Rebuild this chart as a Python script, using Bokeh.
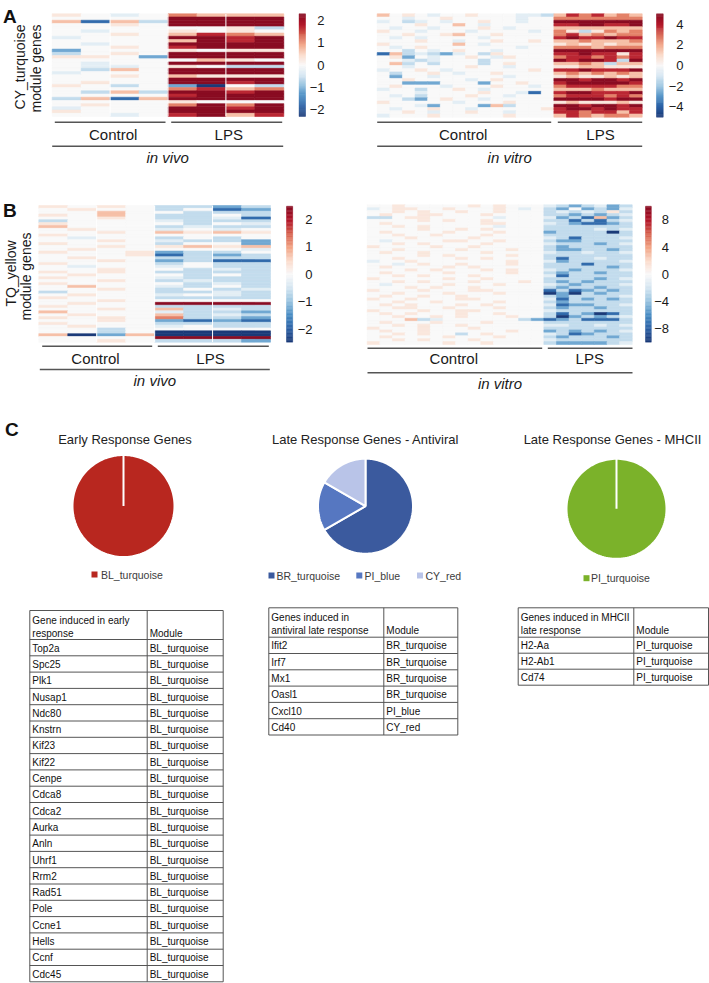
import numpy as np
from bokeh.plotting import figure
from bokeh.models import Range1d, ColumnDataSource, LinearColorMapper
from bokeh.transform import transform
from bokeh.embed import file_html
from bokeh.resources import INLINE
from bokeh.core.properties import value

FONT = value("Liberation Sans")

# ---------------- DATA ----------------
# heatmap cell codes -> fraction of the colour-bar maximum
CODE = {'N': -1.0, 'B': -0.75, 'b': -0.5, 'c': -0.26, 'd': -0.11, '.': 0.0,
        'p': 0.12, 'q': 0.3, 'r': 0.5, 's': 0.75, 'R': 1.0}

# Panel A: CY_turquoise module genes (rows = genes, "control|LPS" samples)
A_vivo_max = 2.31
A_vivo_ticks = [2, 1, 0, -1, -2]
A_vivo = [
    "p.d.|rqqq", "....|RRRR", "qBqc|RRRR", "..p.|RRRR", "....|..pc", ".d..|p.p.",
    "..p.|qsrq", "d...|RRsR", "....|qRsR", ".d..|RRRR", "..p.|sRRR", "b...|p.pp",
    "c.p.|RRRR", "pp.b|RRRR", "....|.qp.", ".d..|RRRR", ".dd.|p.cc", ".cq.|RRRR",
    "d...|RRRR", "..p.|qppp", "....|RRRR", ".p..|RRsR", "p.c.|bN.c", "....|rsqr",
    ".cqc|RRsR", "....|sRRR", "cqBq|RRRR", "....|p...", ".p..|rRrR", "d...|RRsR",
    "p...|RRRR", "..d.|sRqs",
]
A_vitro_max = 5.0
A_vitro_ticks = [4, 2, 0, -2, -4]
A_vitro = [
    "q.p.d..p...ddc|qsrsqrq", "..d..p.....d..|rrrrrrr", "d.cd.d..p..d..|RRRRRRR",
    "...p..q.d.....|ssRRssR", ".d..d...p.d...|qqqqqqq", "p..d...d....d.|rpcprqr",
    "..p..pq..p....|rsqrqrr", ".d.d....d.....|sRssRss", "...p..d..p..p.|qqrqqqr",
    "p.....q.d.....|pqpqpqq", ".d.p.......d..|rrrqrrr", "..c.d.p..d....|RRRRRRR",
    "Bqcdcbd.cp....|ssRssps", ".pb.d..p.dp...|rssrsrs", "..dcd...c.....|RsRRscR",
    ".qc.c...c.p...|qqrqcqq", "..d....p..d...|ppqqppp", "d..p.d......p.|ssRsssR",
    ".c..p.d..p....|qrqrqrq", ".b..d.....d...|pqppqpq", "..p....d.p....|RRsRRsR",
    "..bbb...b..p..|sRRRRRs", ".p...d...p..d.|rssssrr", "d..c..p.d.....|qqqrqqq",
    "...d....p..dB.|sRRsssR", ".d.c...p..d...|rsssrsr", "..cb.p..d.....|RRRRsRR",
    "p.....d...p...|pqpppqp", "...db...bqc...|RRsRRsR", ".d..p..d.....p|sRRsRss",
    "..p.d..p..d...|ssrssqs", "d...p.....p...|qsrqrrq",
]

# Panel B: TQ_yellow module genes
B_vivo_max = 2.47
B_vivo_ticks = [2, 1, 0, -1, -2]
B_vivo = [
    "p.p.|ccbc", ".p..|c.Bb", "..q.|.ccc", "p.q.|cc.c", "..p.|ccdB", "c...|dccc",
    "p...|.c.d", "q...|cdcc", ".p..|d.d.", "..p.|qpqp", "p...|....", ".d..|c.c.",
    "..p.|dccb", "p...|c..b", "..p.|pqpq", ".p..|...d", "p..p|bcc.", "...p|Bcbc",
    ".p..|cccc", "..p.|bcBB", "p...|c.cc", ".d..|d.cc", "..p.|.cdc", "p.p.|cccc",
    ".p..|.c.c", "p...|dccc", "..p.|cdcc", "p...|.cdc", ".q..|dc.c", "..p.|c.cd",
    "c...|ccdc", ".p..|d.dc", "p...|cccc", "..p.|....", ".p..|RRRR", "p...|cccc",
    "..p.|qcdc", "q...|dccb", ".p..|qcdc", "p.p.|rccb", "..p.|bBbB", "p...|cccc",
    ".p..|d.cc", "..c.|....", "..c.|NNNN", "qNbq|NNNN", "....|RRRR", "..p.|cccb",
]
B_vitro_max = 10.0
B_vitro_ticks = [8, 4, 0, -4, -8]
B_vitro = [
    "..p.....p.p...|dcbcdbc", "d.pp..p...p.d.|cb.bcbd", "..p.p..p..p...|cdcdcpc",
    ".p..pp...p....|ccbcbcd", "cc.pp.....d...|dbcBqbc", "....p.p..p....|ccBcBcd",
    ".p.......pp...|dcbBBbc", "..p.p.....d...|ccccccc", "....p..p.p....|ccccdcd",
    ".p....p...p...|bccccNc", "..p..p...p....|ccccccc", "...p....p.....|dcBcccd",
    ".d....pp..p...|cbbcccc", "..p.p....p....|dcccbcd", "p....p..p.....|cbccccc",
    "..p....p...p..|cbbccbc", ".p..p....p....|dccdccd", "....p.p....p..|ccccccc",
    "..p....p.p....|cBccdcc", "d..p.......p..|dbccccd", "..d.p..p...p..|cccBccc",
    ".p....p.p.....|cccccbc", "...p.p...p.p..|dcbcccd", ".p....p....p..|cbccbcc",
    "..p.p...p.....|dBccccc", "p.....p..p....|ccccbcd", "..p.p...p...p.|cbcbccc",
    ".d....p...p...|dcbcccd", "...p.p..p.....|cbccbcc", "p...p...pp....|BcBbcbc",
    "..p...p...p...|NbNcbcc", ".p..p..p......|cbccccd", "p..p...pp.....|dBcbcbc",
    "..p..p....p...|cbccccc", ".p.p...p.p....|dBbbccd", "..pp..p...p...|cbccbcc",
    "p...p..pp.....|dcccccc", ".p.p...p..p...|cBcbNBc", "..p..p.p...p..|cNbcbcd",
    "...qcd......cb|BbcBBBc", ".p...p...p....|ccccccc", "..p.p..p......|ddccdcd",
    "p...p...p.....|ccccccc", ".p..p......p..|bcbcbcd", "..p.p..c.p....|dcBbccc",
    ".p....p...p...|cbcccbc", "..p.p...p.....|dcccccc", "p.....p..p....|cbbbbcd",
]

# Panel C: pies and tables
early_labels = ["BL_turquoise"]
early_counts = [21]
early_colors = ["#b8271f"]
antiviral_labels = ["BR_turquoise", "PI_blue", "CY_red"]
antiviral_counts = [4, 1, 1]
antiviral_colors = ["#3b5a9e", "#5677c1", "#b9c4e8"]
mhcii_labels = ["PI_turquoise"]
mhcii_counts = [3]
mhcii_colors = ["#7bb22a"]

early_genes = ["Top2a", "Spc25", "Plk1", "Nusap1", "Ndc80", "Knstrn", "Kif23", "Kif22",
               "Cenpe", "Cdca8", "Cdca2", "Aurka", "Anln", "Uhrf1", "Rrm2", "Rad51",
               "Pole", "Ccne1", "Hells", "Ccnf", "Cdc45"]
early_modules = ["BL_turquoise"] * 21
antiviral_genes = ["Ifit2", "Irf7", "Mx1", "Oasl1", "Cxcl10", "Cd40"]
antiviral_modules = ["BR_turquoise", "BR_turquoise", "BR_turquoise", "BR_turquoise",
                     "PI_blue", "CY_red"]
mhcii_genes = ["H2-Aa", "H2-Ab1", "Cd74"]
mhcii_modules = ["PI_turquoise", "PI_turquoise", "PI_turquoise"]

# ---------------- STYLE ----------------
STOPS = ['#1b3a78', '#2c62a6', '#4a8dc4', '#99c4e0', '#d5e6f2', '#f9f9f9',
         '#fbdbcb', '#f2a485', '#d6604d', '#b3192c', '#8a0c22']
_st = np.array([[int(c[i:i + 2], 16) for i in (1, 3, 5)] for c in STOPS], float)
_pos = np.linspace(0, 1, len(STOPS))
PAL = ['#%02x%02x%02x' % tuple(int(round(np.interp(t, _pos, _st[:, k]))) for k in range(3))
       for t in np.linspace(0, 1, 101)]

W, H = 709, 983
PX0, PY0 = 0, 0
XLO, XHI = PX0, PX0 + W
YLO, YHI = PY0 + H, PY0

p = figure(width=W, height=H, x_range=Range1d(XLO, XHI), y_range=Range1d(YLO, YHI),
           output_backend="svg", toolbar_location=None, min_border=0,
           x_axis_location=None, y_axis_location=None, outline_line_color=None,
           background_fill_color="white", border_fill_color="white")
p.xgrid.visible = False
p.ygrid.visible = False


def span(p0, p1, d0, d1, lo, hi):
    k = (d1 - d0) / (p1 - p0)
    return Range1d(start=d0 + (lo - p0) * k, end=d0 + (hi - p0) * k)


def txt(x, y, s, size="13px", align="center", baseline="middle", style="normal",
        color="#222222", angle=0.0):
    p.text(x=[x], y=[y], text=[s], text_font=FONT, text_font_size=size,
           text_align=align, text_baseline=baseline, text_font_style=style,
           text_color=color, angle=angle)


def fmt(t):
    return ("\u2212%d" % -t) if t < 0 else "%d" % t


def heatmap(name, rows, vmax, box, seps):
    x0, x1, y0, y1 = box
    cells = [r.replace("|", "") for r in rows]
    nr, nc = len(cells), len(cells[0])
    xr, yr = name + "x", name + "y"
    p.extra_x_ranges[xr] = span(x0, x1, 0, nc, XLO, XHI)
    p.extra_y_ranges[yr] = span(y0, y1, 0, nr, YLO, YHI)
    xs, ys, vs = [], [], []
    for i, r in enumerate(cells):
        for j, ch in enumerate(r):
            xs.append(j + 0.5)
            ys.append(i + 0.5)
            vs.append(CODE[ch] * vmax)
    mapper = LinearColorMapper(palette=PAL, low=-vmax, high=vmax)
    src = ColumnDataSource(dict(x=xs, y=ys, v=vs))
    p.rect("x", "y", 1, 1, source=src, fill_color=transform("v", mapper),
           line_color=transform("v", mapper), line_width=0.6,
           x_range_name=xr, y_range_name=yr)
    if seps:
        p.segment(x0=seps, x1=seps, y0=0, y1=nr, line_color="white", line_width=1,
                  x_range_name=xr, y_range_name=yr)


def colorbar(name, vmax, ticks, x0, x1, ytop, ybot, lab_right):
    p.extra_y_ranges[name] = span(ytop, ybot, vmax, -vmax, YLO, YHI)
    edges = np.linspace(-vmax, vmax, len(PAL) + 1)
    p.quad(left=x0, right=x1, bottom=edges[:-1], top=edges[1:], fill_color=PAL,
           line_color=PAL, line_width=0.4, y_range_name=name)
    p.text(x=[lab_right] * len(ticks), y=ticks, text=[fmt(t) for t in ticks],
           text_font=FONT, text_font_size="13px", text_align="right",
           text_baseline="middle", text_color="#1a1a1a", y_range_name=name)


def groups(c_line, l_line, all_line, y_top, y_all, c_lab, l_lab, sub):
    p.segment(x0=[c_line[0], l_line[0], all_line[0]], x1=[c_line[1], l_line[1], all_line[1]],
              y0=[y_top, y_top, y_all], y1=[y_top, y_top, y_all],
              line_color="#555555", line_width=1.5)
    txt(c_lab[0], c_lab[1], "Control", size="15px", color="#1a1a1a")
    txt(l_lab[0], l_lab[1], "LPS", size="15px", color="#1a1a1a")
    txt((all_line[0] + all_line[1]) / 2, y_all + 11, sub, size="15px", style="italic",
        color="#1a1a1a")


# ---------------- PANEL A ----------------
txt(2.5, 15.5, "A", size="19px", align="left", baseline="alphabetic", style="bold",
    color="#111111")
txt(19, 66.5, "CY_turquoise", size="14px", angle=np.pi / 2, color="#1a1a1a")
txt(35, 68, "module genes", size="14px", angle=np.pi / 2, color="#1a1a1a")
heatmap("Av", A_vivo, A_vivo_max, (51.7, 283.3, 13.3, 116.0), [2, 4, 6])
colorbar("Avc", A_vivo_max, A_vivo_ticks, 298.5, 305.0, 13.3, 116.0, 324)
groups((54.3, 165), (170.7, 281.7), (51.7, 282.7), 121.7, 145.7,
       (112.7, 133.5), (228.3, 133.5), "in vivo")

heatmap("At", A_vitro, A_vitro_max, (376.7, 641.7, 13.3, 116.7), None)
colorbar("Atc", A_vitro_max, A_vitro_ticks, 656.0, 662.7, 13.3, 116.7, 683)
groups((376.7, 550.7), (557.3, 641.7), (376.7, 641.7), 121.7, 145.7,
       (462.7, 133.5), (600, 133.5), "in vitro")

# ---------------- PANEL B ----------------
txt(2.5, 209.5, "B", size="19px", align="left", baseline="alphabetic", style="bold",
    color="#111111")
txt(10.5, 273, "TQ_yellow", size="14px", angle=np.pi / 2, color="#1a1a1a")
txt(25.5, 276, "module genes", size="14px", angle=np.pi / 2, color="#1a1a1a")
heatmap("Bv", B_vivo, B_vivo_max, (38.3, 270.0, 205.0, 341.7), [2, 4, 6])
colorbar("Bvc", B_vivo_max, B_vivo_ticks, 286.0, 292.2, 205.7, 341.7, 312)
groups((41.7, 151.7), (157.3, 268.3), (39.3, 269.3), 345.7, 369.0,
       (95, 358.3), (210, 358.3), "in vivo")

heatmap("Bt", B_vitro, B_vitro_max, (366.7, 631.7, 204.3, 344.0), None)
colorbar("Btc", B_vitro_max, B_vitro_ticks, 645.0, 650.8, 205.7, 341.7, 668.5)
groups((367, 541.7), (547.3, 632), (367, 632), 347.7, 372.3,
       (453.3, 358.3), (589.3, 358.3), "in vitro")

# ---------------- PANEL C ----------------
txt(4.5, 429, "C", size="19px", align="left", baseline="alphabetic", style="bold",
    color="#111111")


def pie(name, counts, colors, cx, cy, r):
    xr, yr = name + "x", name + "y"
    p.extra_x_ranges[xr] = span(cx - r, cx + r, -1, 1, XLO, XHI)
    p.extra_y_ranges[yr] = span(cy - r, cy + r, 1, -1, YLO, YHI)
    total = float(sum(counts))
    a = 0.0
    xs, ys = [], []
    for c in counts:
        a1 = a + 2 * np.pi * c / total
        t = np.linspace(a, a1, 160)
        xs.append([0.0] + list(np.sin(t)))
        ys.append([0.0] + list(np.cos(t)))
        a = a1
    p.patches(xs, ys, fill_color=colors, line_color="white", line_width=2,
              x_range_name=xr, y_range_name=yr)


def legend(xs_sq, xs_txt, y, labels, colors):
    p.scatter(x=xs_sq, y=[y] * len(xs_sq), marker="square", size=6, fill_color=colors,
              line_color=None)
    p.text(x=xs_txt, y=[y] * len(xs_txt), text=labels, text_font=FONT,
           text_font_size="10.5px", text_align="left", text_baseline="middle",
           text_color="#3c3c3c")


txt(124.5, 438.5, "Early Response Genes", size="13px")
pie("P1", early_counts, early_colors, 123.0, 505.5, 51.0)
legend([94.0], [100.5], 574.0, early_labels, early_colors)

txt(365.0, 438.5, "Late Response Genes - Antiviral", size="13px")
pie("P2", antiviral_counts, antiviral_colors, 365.0, 505.7, 47.5)
legend([271.0, 358.8, 419.5], [276.0, 364.0, 425.0], 575.0, antiviral_labels,
       antiviral_colors)

txt(612.0, 438.5, "Late Response Genes - MHCII", size="13px")
pie("P3", mhcii_counts, mhcii_colors, 616.0, 508.3, 50.0)
legend([586.0], [590.5], 577.7, mhcii_labels, mhcii_colors)


def table(hdr, genes, modules, left, mid, right, top, hbot, rh):
    n = len(genes)
    bottom = hbot + n * rh
    hy = [top, hbot] + [hbot + (i + 1) * rh for i in range(n)]
    p.segment(x0=left, x1=right, y0=hy, y1=hy, line_color="#555555", line_width=1)
    p.segment(x0=[left, mid, right], x1=[left, mid, right], y0=top, y1=bottom,
              line_color="#555555", line_width=1)
    for k, s in enumerate(hdr):
        txt(left + 2.5, top + 9.5 + 13 * k, s, size="10px", align="left", color="#111111")
    txt(mid + 2.5, top + 22.5, "Module", size="10px", align="left", color="#111111")
    yc = [hbot + (i + 0.5) * rh + 0.5 for i in range(n)]
    p.text(x=[left + 2.5] * n, y=yc, text=genes, text_font=FONT, text_font_size="10px",
           text_align="left", text_baseline="middle", text_color="#111111")
    p.text(x=[mid + 2.5] * n, y=yc, text=modules, text_font=FONT, text_font_size="10px",
           text_align="left", text_baseline="middle", text_color="#111111")


table(["Gene induced in early", "response"], early_genes, early_modules,
      29.3, 146.7, 222.7, 610.0, 639.0, 16.3)
table(["Genes induced in", "antiviral late response"], antiviral_genes, antiviral_modules,
      268.3, 383.3, 457.3, 607.3, 636.7, 16.3)
table(["Genes induced in MHCII", "late response"], mhcii_genes, mhcii_modules,
      517.7, 633.3, 708.0, 607.3, 636.7, 16.0)

open("out.html", "w").write(file_html(p, INLINE))
